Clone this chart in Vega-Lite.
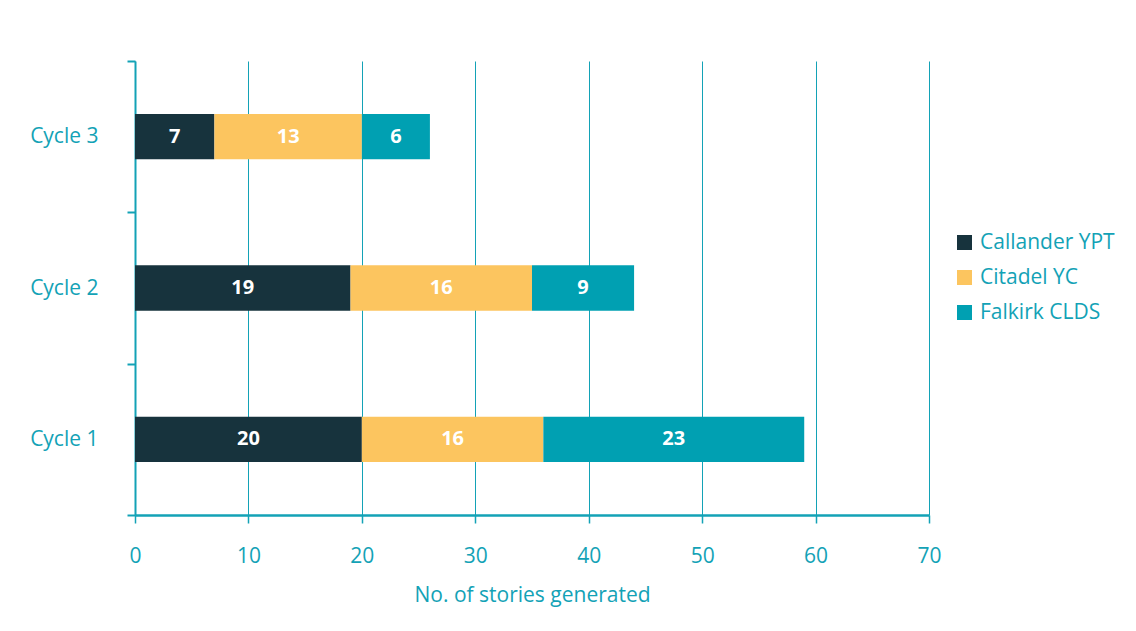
{
  "$schema": "https://vega.github.io/schema/vega-lite/v6.json",
  "width": 794,
  "height": 454,
  "autosize": {"type": "none"},
  "padding": {"left": 135, "top": 61, "right": 207, "bottom": 116},
  "background": "white",
  "config": {
    "view": {"stroke": null},
    "font": "Open Sans",
    "axis": {"labelFont": "Open Sans", "titleFont": "Open Sans"}
  },
  "data": {
    "values": [
      {"cycle": "Cycle 1", "group": "Callander YPT", "stories": 20},
      {"cycle": "Cycle 1", "group": "Citadel YC", "stories": 16},
      {"cycle": "Cycle 1", "group": "Falkirk CLDS", "stories": 23},
      {"cycle": "Cycle 2", "group": "Callander YPT", "stories": 19},
      {"cycle": "Cycle 2", "group": "Citadel YC", "stories": 16},
      {"cycle": "Cycle 2", "group": "Falkirk CLDS", "stories": 9},
      {"cycle": "Cycle 3", "group": "Callander YPT", "stories": 7},
      {"cycle": "Cycle 3", "group": "Citadel YC", "stories": 13},
      {"cycle": "Cycle 3", "group": "Falkirk CLDS", "stories": 6}
    ]
  },
  "transform": [
    {"stack": "stories", "groupby": ["cycle"], "sort": [{"field": "group", "order": "ascending"}], "as": ["s0", "s1"]},
    {"calculate": "(datum.s0 + datum.s1) / 2", "as": "mid"}
  ],
  "encoding": {
    "y": {
      "field": "cycle",
      "type": "nominal",
      "sort": ["Cycle 3", "Cycle 2", "Cycle 1"],
      "scale": {"paddingInner": 0, "paddingOuter": 0},
      "axis": {
        "title": null,
        "tickBand": "extent",
        "domainColor": "#13a2b6",
        "domainWidth": 2,
        "tickColor": "#13a2b6",
        "tickWidth": 2,
        "tickSize": 8,
        "labelColor": "#13a2b6",
        "labelFontSize": 21,
        "labelPadding": 29,
        "grid": false
      }
    }
  },
  "layer": [
    {
      "mark": {"type": "bar", "height": {"band": 0.3}},
      "encoding": {
        "x": {
          "field": "s0",
          "type": "quantitative",
          "scale": {"domain": [0, 70]},
          "axis": {
            "title": "No. of stories generated",
            "titleColor": "#13a2b6",
            "titleFontSize": 21,
            "titleFontWeight": "normal",
            "titlePadding": 18,
            "values": [0, 10, 20, 30, 40, 50, 60, 70],
            "grid": true,
            "gridColor": "#13a2b6",
            "gridWidth": 1,
            "domainColor": "#13a2b6",
            "domainWidth": 2.5,
            "tickColor": "#13a2b6",
            "tickWidth": 1.5,
            "tickSize": 8,
            "labelColor": "#13a2b6",
            "labelFontSize": 21,
            "labelPadding": 22,
            "labelFlush": false
          }
        },
        "x2": {"field": "s1"},
        "color": {
          "field": "group",
          "type": "nominal",
          "scale": {
            "domain": ["Callander YPT", "Citadel YC", "Falkirk CLDS"],
            "range": ["#17333d", "#fcc55f", "#00a0b2"]
          },
          "legend": {
            "title": null,
            "orient": "none",
            "legendX": 819,
            "legendY": 171,
            "symbolType": "square",
            "symbolSize": 225,
            "symbolStrokeWidth": 0,
            "labelColor": "#13a2b6",
            "labelFontSize": 21,
            "labelOffset": 5,
            "rowPadding": 13,
            "padding": 0
          }
        }
      }
    },
    {
      "mark": {"type": "text", "color": "white", "fontSize": 20, "fontWeight": "bold", "baseline": "middle", "align": "center"},
      "encoding": {
        "x": {"field": "mid", "type": "quantitative"},
        "text": {"field": "stories", "type": "quantitative"}
      }
    }
  ]
}
